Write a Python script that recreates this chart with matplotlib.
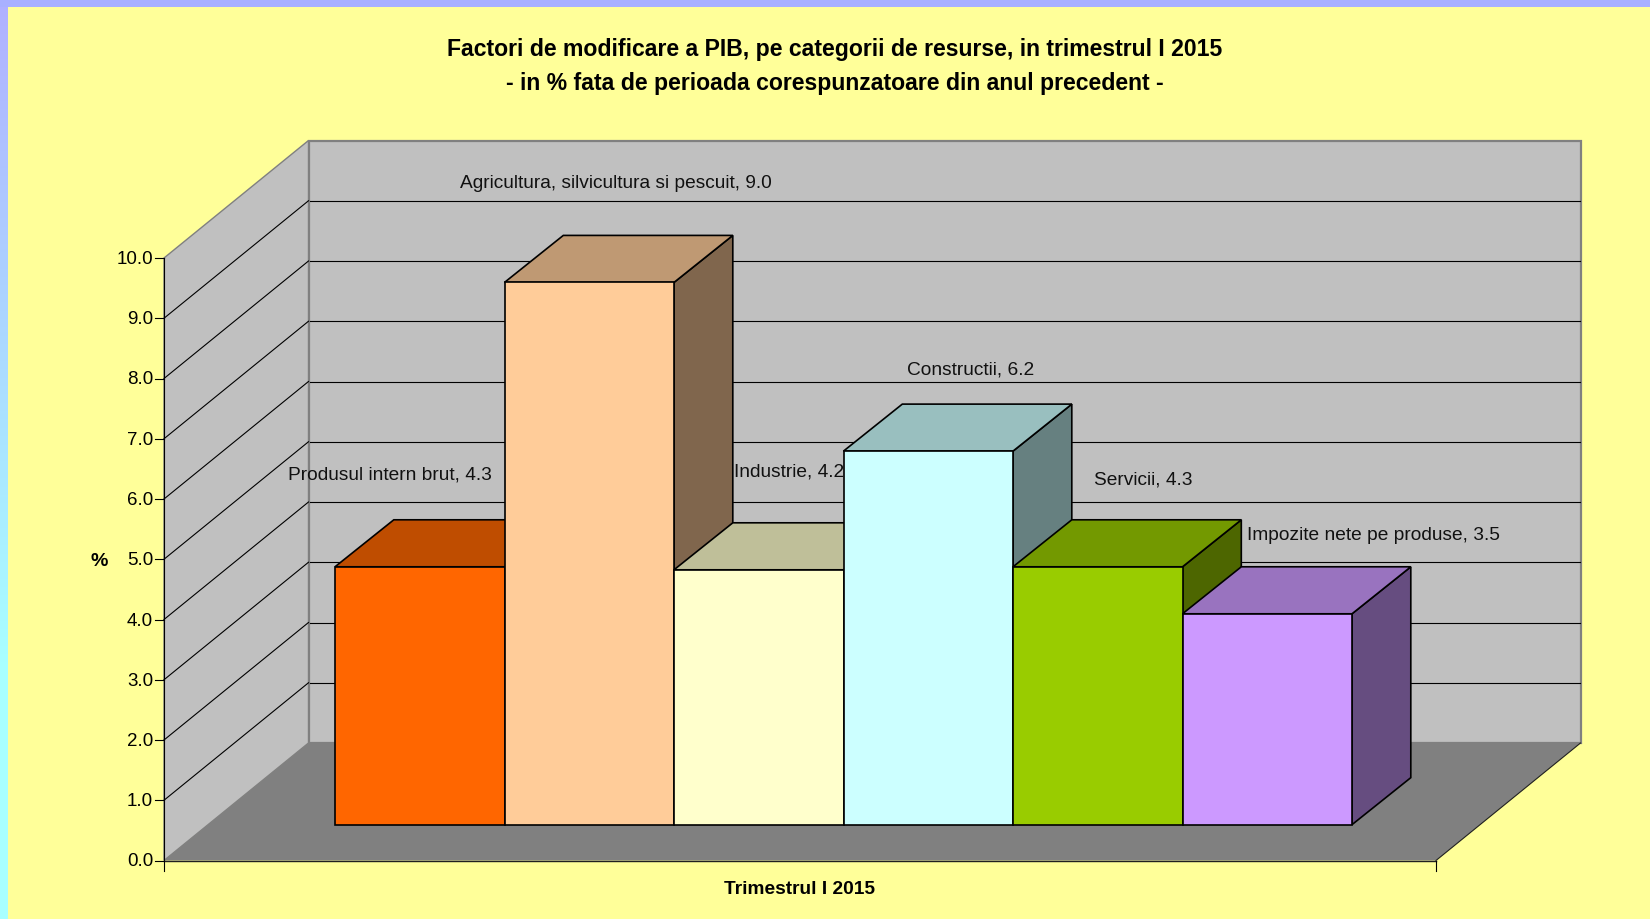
import numpy as np
from matplotlib import pyplot as plt
from matplotlib.patches import Polygon

plt.rcParams["font.family"] = ["Liberation Sans", "DejaVu Sans"]

categories = ["Produsul intern brut", "Agricultura, silvicultura si pescuit", "Industrie",
              "Constructii", "Servicii", "Impozite nete pe produse"]
values = [4.28, 9.0, 4.23, 6.2, 4.28, 3.5]
colors = ["#FF6600", "#FFCC99", "#FFFFCC", "#CCFFFF", "#99CC00", "#CC99FF"]
yticks = [0, 1, 2, 3, 4, 5, 6, 7, 8, 9, 10]
title = "Factori de modificare a PIB, pe categorii de resurse, in trimestrul I 2015\n- in % fata de perioada corespunzatoare din anul precedent -"
xlabel = "Trimestrul I 2015"
ylabel = "%"

# pixel layout of the 3d box
X0, X1 = 164.0, 1436.0
Y0, Y10 = 860.5, 258.0
DX, DY = 144.5, -117.5
BAR_X0, BAR_W = 335.0, 169.5
BAR_D0, BAR_D1 = 0.305, 0.705
BAR_BACK_DX = 1.0


def shade(c, k):
    rgb = np.array(plt.matplotlib.colors.to_rgb(c))
    return tuple(rgb * k)


def py(v):
    return Y0 + (Y10 - Y0) * v / 10


def pt(x, v, d):
    # x in pixels on the front plane, v in data units, d = depth 0..1
    return x + DX * d, py(v) + DY * d


def bar_back(x, v):
    px, pv = pt(x, v, BAR_D1)
    return px + BAR_BACK_DX, pv


fig = plt.figure(figsize=(16.5, 9.19), dpi=100, facecolor="#FFFF99")
ax = fig.add_axes([0, 0, 1, 1])
ax.axis("off")

# page frame, blue to cyan down the left side
t = np.clip(np.arange(919) / 662, 0, 1)[:, None]
grad = np.dstack([176 - 8 * t, 176 + 79 * t, 255 + 0 * t]).astype(np.uint8)
ax.imshow(grad, extent=[0, 8, 919, 0], aspect="auto", zorder=1)
ax.set_xlim(0, 1650)
ax.set_ylim(919, 0)
ax.add_patch(plt.Rectangle((0, 0), 1650, 7, fc="#A8B0FF", ec="none", zorder=1))

# walls and floor
wall_edge = "#808080"
back = [pt(X0, 0, 1), pt(X1, 0, 1), pt(X1, 10, 1), pt(X0, 10, 1)]
left = [pt(X0, 0, 0), pt(X0, 0, 1), pt(X0, 10, 1), pt(X0, 10, 0)]
floor = [pt(X0, 0, 0), pt(X1, 0, 0), pt(X1, 0, 1), pt(X0, 0, 1)]
ax.add_patch(Polygon(back, closed=True, fc="#C0C0C0", ec=wall_edge, lw=1.6, zorder=2))
ax.add_patch(Polygon(left, closed=True, fc="#C0C0C0", ec=wall_edge, lw=1.0, zorder=2))
ax.add_patch(Polygon(floor, closed=True, fc="#808080", ec="none", zorder=2))

# grid
for v in yticks[1:-1]:
    a, b, c = pt(X0, v, 0), pt(X0, v, 1), pt(X1, v, 1)
    ax.plot([a[0], b[0]], [a[1], b[1]], color="black", lw=0.8, zorder=3)
    ax.plot([b[0] + 1, c[0] - 1], [b[1], c[1]], color="black", lw=0.8, zorder=3)

# axes lines
ax.plot([X0, X0], [py(10), Y0 + 10], color="black", lw=0.8, zorder=4)
ax.plot([X0, X1], [Y0, Y0], color="#202020", lw=1.0, zorder=4)
ax.plot([X1, X1], [Y0, Y0 + 10], color="black", lw=0.8, zorder=4)
a, b = pt(X1, 0, 0), pt(X1, 0, 1)
ax.plot([a[0], b[0]], [a[1], b[1]], color="#202020", lw=0.8, zorder=4)
for v in yticks:
    ax.plot([X0 - 9, X0], [py(v), py(v)], color="black", lw=0.8, zorder=4)
    ax.text(X0 - 11, py(v) - 0.5, f"{v:.1f}", ha="right", va="center_baseline", fontsize=13.5, color="black", zorder=6)

# bars, left to right so each one covers the side of the previous
for i, (val, col) in enumerate(zip(values, colors)):
    x0 = BAR_X0 + i * BAR_W - DX * BAR_D0
    x1 = x0 + BAR_W
    front = [pt(x0, 0, BAR_D0), pt(x1, 0, BAR_D0), pt(x1, val, BAR_D0), pt(x0, val, BAR_D0)]
    top = [pt(x0, val, BAR_D0), pt(x1, val, BAR_D0), bar_back(x1, val), bar_back(x0, val)]
    side = [pt(x1, 0, BAR_D0), bar_back(x1, 0), bar_back(x1, val), pt(x1, val, BAR_D0)]
    z = 5 + i * 0.01
    ax.add_patch(Polygon(side, closed=True, fc=shade(col, 0.5), ec="black", lw=1.2, zorder=z))
    ax.add_patch(Polygon(top, closed=True, fc=shade(col, 0.75), ec="black", lw=1.2, zorder=z))
    ax.add_patch(Polygon(front, closed=True, fc=col, ec="black", lw=1.2, zorder=z))

# data labels
label_xy = [(288, 475.5), (460, 184), (733.5, 472), (907, 370), (1094, 480), (1247, 535.5)]
for name, val, (lx, ly) in zip(categories, values, label_xy):
    ax.text(lx, ly, f"{name}, {val:.1f}", ha="left", va="center", fontsize=13.8, color="#111111", zorder=7)

ax.text(834.5, 66.5, title, ha="center", va="center", fontsize=16.6, fontweight="bold", linespacing=1.63, zorder=7)
ax.text(800, 889, xlabel, ha="center", va="center", fontsize=13.8, fontweight="bold", zorder=7)
ax.text(99, 562, ylabel, ha="center", va="center", fontsize=14, fontweight="bold", zorder=7)

fig.savefig("out.png", dpi=100, facecolor=fig.get_facecolor())
